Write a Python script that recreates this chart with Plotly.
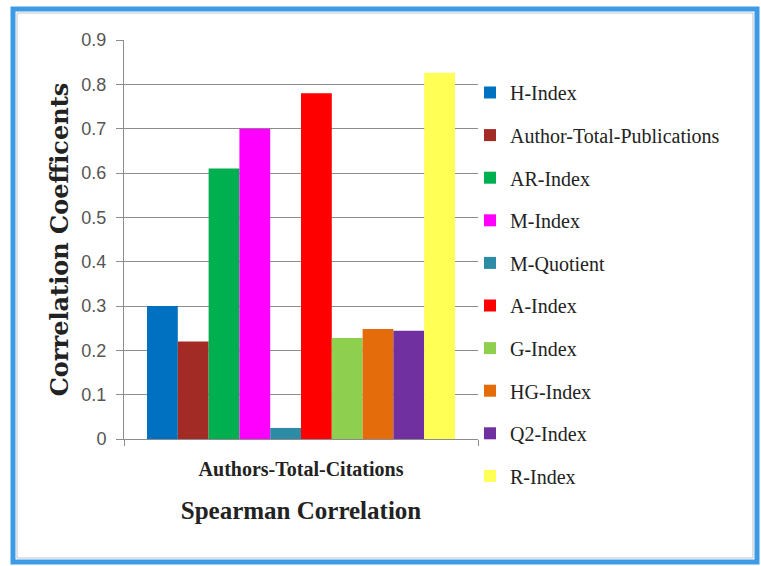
import plotly.graph_objects as go

category = ["Authors-Total-Citations"]
series_names = ["H-Index", "Author-Total-Publications", "AR-Index", "M-Index", "M-Quotient",
                "A-Index", "G-Index", "HG-Index", "Q2-Index", "R-Index"]
series_values = [0.30, 0.22, 0.61, 0.70, 0.025, 0.78, 0.228, 0.248, 0.244, 0.826]
colors = ["#0070C0", "#A32B26", "#00B050", "#FF00FF", "#2E8BA5",
          "#FF0000", "#8FCF4F", "#E46C0A", "#7030A0", "#FFFF55"]

W, H = 761, 566
L, R, T, B = 124, 478, 40, 439

fig = go.Figure()
for i, (name, val, col) in enumerate(zip(series_names, series_values, colors)):
    fig.add_trace(go.Bar(x=category, y=[val], name=name, marker_color=col,
                         marker_line_width=0, legendgroup=f"g{i}"))

def px_x(p):
    return (p - L) / (R - L)

def px_y(p):
    return (B - p) / (B - T)

fig.add_shape(type="rect", xref="paper", yref="paper",
              x0=px_x(13), x1=px_x(757), y0=px_y(562), y1=px_y(9),
              line=dict(color="#3D9BE6", width=5), fillcolor="rgba(0,0,0,0)", layer="below")
fig.add_shape(type="rect", xref="paper", yref="paper",
              x0=px_x(17), x1=px_x(753), y0=px_y(558), y1=px_y(13),
              line=dict(color="#B8C4CC", width=1), fillcolor="rgba(0,0,0,0)", layer="below")

fig.update_layout(
    width=W, height=H,
    margin=dict(l=L, r=W - R, t=T, b=H - B, autoexpand=False),
    paper_bgcolor="white", plot_bgcolor="white",
    barmode="group", bargap=0.13, bargroupgap=0,
    font=dict(family="Liberation Serif", color="#222222"),
    legend=dict(x=px_x(470), y=px_y(73), xanchor="left", yanchor="top",
                font=dict(family="Liberation Serif", size=20, color="#222222"),
                tracegroupgap=13.6, itemwidth=30, bgcolor="rgba(0,0,0,0)", maxheight=560),
    showlegend=True,
)
fig.update_yaxes(range=[0, 0.9], dtick=0.1, showgrid=True, gridcolor="#8C8C8C", gridwidth=1,
                 showline=True, linecolor="#8C8C8C", linewidth=1,
                 ticks="outside", ticklen=7, tickcolor="#8C8C8C",
                 tickfont=dict(family="Liberation Sans", size=18, color="#555555"),
                 ticklabelstandoff=6,
                 zeroline=False,
                 title=dict(text="<b>Correlation Coefficents</b>",
                            font=dict(family="DejaVu Serif", size=24, color="#222222"),
                            standoff=5))
fig.update_xaxes(showline=True, linecolor="#8C8C8C", linewidth=1,
                 ticks="outside", tickson="boundaries", ticklen=6, tickcolor="#8C8C8C",
                 tickfont=dict(family="Liberation Serif", size=20, color="#222222"),
                 ticklabelstandoff=12,
                 tickprefix="<b>", ticksuffix="</b>",
                 title=dict(text="<b>Spearman Correlation</b>",
                            font=dict(family="Liberation Serif", size=25, color="#222222"),
                            standoff=22))

fig.write_html("out.html", config={"displayModeBar": False},
               post_script="document.body.style.margin='0px';")
